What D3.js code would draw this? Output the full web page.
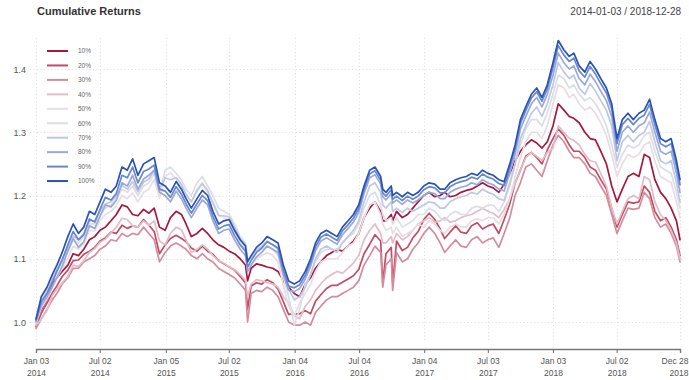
<!DOCTYPE html>
<html><head><meta charset="utf-8">
<script src="https://cdn.jsdelivr.net/npm/d3@7"></script>
<style>body{margin:0;background:#fff;} svg{display:block;font-family:"Liberation Sans",Arial,sans-serif;}</style>
</head><body><svg id="chart" width="689" height="380"></svg>
<script>
// ---- data (semi-monthly readings, plus a few single-day dips) ----
const dates = [
"2014-01-03","2014-01-18","2014-02-03","2014-02-18","2014-03-03","2014-03-18","2014-04-03","2014-04-18","2014-05-03","2014-05-18","2014-06-03","2014-06-18","2014-07-03","2014-07-18","2014-08-03","2014-08-18","2014-09-03","2014-09-18","2014-10-03","2014-10-18","2014-11-03","2014-11-18","2014-12-03","2014-12-18",
"2015-01-03","2015-01-18","2015-02-03","2015-02-18","2015-03-03","2015-03-18","2015-04-03","2015-04-18","2015-05-03","2015-05-18","2015-06-03","2015-06-18","2015-07-03","2015-07-18","2015-08-03","2015-08-18","2015-08-24","2015-09-03","2015-09-18","2015-10-03","2015-10-18","2015-11-03","2015-11-18","2015-12-03","2015-12-18",
"2016-01-03","2016-01-18","2016-02-03","2016-02-18","2016-03-03","2016-03-18","2016-04-03","2016-04-18","2016-05-03","2016-05-18","2016-06-03","2016-06-18","2016-07-03","2016-07-18","2016-08-03","2016-08-18","2016-09-03","2016-09-09","2016-09-18","2016-10-03","2016-10-07","2016-10-18","2016-11-03","2016-11-18","2016-12-03","2016-12-18",
"2017-01-03","2017-01-18","2017-02-03","2017-02-18","2017-03-03","2017-03-18","2017-04-03","2017-04-18","2017-05-03","2017-05-18","2017-06-03","2017-06-18","2017-07-03","2017-07-18","2017-08-03","2017-08-18","2017-09-03","2017-09-18","2017-10-03","2017-10-18","2017-11-03","2017-11-18","2017-12-03","2017-12-18",
"2018-01-03","2018-01-18","2018-02-03","2018-02-18","2018-03-03","2018-03-18","2018-04-03","2018-04-18","2018-05-03","2018-05-18","2018-06-03","2018-06-18","2018-07-03","2018-07-18","2018-08-03","2018-08-18","2018-09-03","2018-09-18","2018-10-03","2018-10-18","2018-11-03","2018-11-18","2018-12-03","2018-12-18","2018-12-28"
];

const s10 = [
1.000,1.020,1.035,1.060,1.070,1.080,1.090,1.108,1.105,1.115,1.130,1.135,1.145,1.150,1.160,1.170,1.185,1.182,1.170,1.168,1.178,1.172,1.180,1.150,
1.145,1.165,1.175,1.170,1.155,1.135,1.140,1.148,1.140,1.130,1.122,1.118,1.112,1.108,1.100,1.090,1.065,1.085,1.092,1.090,1.087,1.085,1.080,1.065,1.055,
1.045,1.040,1.060,1.070,1.085,1.095,1.105,1.110,1.115,1.112,1.120,1.128,1.140,1.165,1.180,1.190,1.175,1.160,1.160,1.170,1.160,1.175,1.165,1.170,1.180,1.190,
1.200,1.205,1.198,1.200,1.205,1.198,1.200,1.205,1.208,1.210,1.215,1.220,1.215,1.212,1.205,1.218,1.235,1.255,1.270,1.280,1.288,1.283,1.275,1.285,
1.310,1.345,1.335,1.325,1.322,1.315,1.300,1.290,1.288,1.270,1.250,1.215,1.190,1.210,1.230,1.235,1.230,1.265,1.260,1.225,1.205,1.195,1.180,1.160,1.130
];
const s20 = [
0.993,1.014,1.030,1.046,1.057,1.072,1.082,1.097,1.098,1.107,1.112,1.118,1.128,1.133,1.142,1.140,1.153,1.148,1.152,1.150,1.162,1.153,1.143,1.108,
1.122,1.132,1.137,1.132,1.127,1.117,1.112,1.120,1.112,1.107,1.097,1.092,1.087,1.082,1.072,1.062,1.020,1.057,1.062,1.060,1.067,1.062,1.052,1.032,1.012,
1.013,1.013,1.018,1.013,1.033,1.043,1.053,1.058,1.058,1.063,1.068,1.073,1.083,1.108,1.123,1.138,1.128,1.062,1.108,1.118,1.060,1.128,1.113,1.118,1.133,1.143,
1.162,1.172,1.162,1.147,1.132,1.142,1.152,1.142,1.140,1.152,1.157,1.147,1.152,1.155,1.140,1.162,1.187,1.220,1.240,1.262,1.268,1.260,1.250,1.272,
1.290,1.305,1.295,1.280,1.270,1.270,1.260,1.245,1.240,1.225,1.210,1.180,1.150,1.170,1.190,1.188,1.190,1.215,1.205,1.175,1.160,1.165,1.150,1.130,1.105
];
const s30 = [
0.990,1.005,1.020,1.035,1.045,1.060,1.070,1.085,1.085,1.095,1.100,1.105,1.115,1.120,1.130,1.128,1.140,1.135,1.140,1.138,1.150,1.140,1.130,1.095,
1.110,1.120,1.125,1.120,1.115,1.105,1.100,1.108,1.100,1.095,1.085,1.080,1.075,1.070,1.060,1.050,1.000,1.045,1.050,1.048,1.055,1.050,1.040,1.020,1.000,
0.995,0.995,1.000,0.995,1.015,1.025,1.035,1.040,1.040,1.045,1.050,1.055,1.065,1.090,1.105,1.120,1.110,1.055,1.090,1.100,1.050,1.110,1.095,1.100,1.115,1.125,
1.140,1.150,1.140,1.125,1.110,1.120,1.130,1.120,1.118,1.130,1.135,1.125,1.130,1.133,1.118,1.140,1.165,1.200,1.220,1.245,1.250,1.240,1.230,1.255,
1.280,1.295,1.285,1.270,1.260,1.260,1.250,1.235,1.230,1.215,1.200,1.170,1.140,1.160,1.180,1.178,1.180,1.205,1.195,1.165,1.150,1.155,1.140,1.120,1.095
];
const s40 = [
0.995,1.005,1.018,1.042,1.052,1.062,1.072,1.090,1.088,1.097,1.110,1.116,1.126,1.131,1.141,1.150,1.164,1.162,1.152,1.150,1.160,1.153,1.160,1.128,
1.122,1.140,1.150,1.146,1.130,1.110,1.115,1.122,1.115,1.105,1.097,1.093,1.087,1.083,1.075,1.066,1.040,1.060,1.067,1.065,1.062,1.060,1.055,1.040,1.030,
1.010,1.005,1.025,1.035,1.050,1.060,1.070,1.075,1.080,1.077,1.085,1.093,1.105,1.130,1.145,1.155,1.140,1.125,1.125,1.135,1.125,1.140,1.130,1.135,1.145,1.155,
1.160,1.165,1.158,1.160,1.165,1.158,1.160,1.165,1.168,1.170,1.175,1.180,1.175,1.172,1.165,1.178,1.195,1.220,1.240,1.260,1.268,1.262,1.255,1.268,
1.275,1.310,1.300,1.290,1.287,1.280,1.265,1.255,1.253,1.235,1.215,1.180,1.155,1.175,1.195,1.200,1.195,1.230,1.225,1.190,1.170,1.160,1.145,1.125,1.100
];
const s50 = [
0.998,1.022,1.036,1.055,1.070,1.085,1.100,1.120,1.115,1.124,1.145,1.144,1.160,1.170,1.175,1.184,1.200,1.195,1.204,1.190,1.205,1.210,1.226,1.196,
1.230,1.236,1.226,1.215,1.200,1.190,1.210,1.220,1.205,1.190,1.170,1.165,1.160,1.145,1.125,1.115,1.090,1.090,1.100,1.105,1.110,1.105,1.095,1.058,1.025,
1.010,1.030,1.045,1.060,1.080,1.095,1.100,1.100,1.100,1.110,1.120,1.125,1.140,1.165,1.185,1.190,1.170,1.155,1.145,1.150,1.140,1.150,1.135,1.140,1.145,1.155,
1.150,1.160,1.155,1.145,1.140,1.150,1.155,1.150,1.150,1.160,1.163,1.160,1.165,1.165,1.155,1.170,1.195,1.230,1.260,1.285,1.300,1.300,1.290,1.310,
1.345,1.375,1.370,1.355,1.360,1.345,1.335,1.340,1.330,1.315,1.295,1.265,1.230,1.250,1.265,1.260,1.265,1.280,1.285,1.255,1.230,1.225,1.220,1.190,1.165
];
const s60 = [
1.000,1.030,1.045,1.065,1.080,1.095,1.110,1.130,1.125,1.135,1.155,1.155,1.170,1.180,1.185,1.195,1.210,1.205,1.215,1.200,1.215,1.220,1.235,1.205,
1.240,1.245,1.235,1.225,1.210,1.200,1.220,1.230,1.215,1.200,1.180,1.175,1.170,1.155,1.135,1.125,1.100,1.100,1.110,1.115,1.120,1.115,1.105,1.070,1.040,
0.995,1.020,1.060,1.075,1.095,1.110,1.115,1.115,1.115,1.125,1.135,1.140,1.155,1.180,1.200,1.205,1.185,1.170,1.160,1.165,1.155,1.165,1.150,1.155,1.160,1.170,
1.170,1.180,1.175,1.165,1.160,1.170,1.175,1.170,1.170,1.180,1.183,1.180,1.185,1.185,1.175,1.190,1.215,1.250,1.280,1.305,1.320,1.320,1.310,1.330,
1.360,1.390,1.385,1.370,1.375,1.360,1.350,1.355,1.345,1.330,1.310,1.280,1.245,1.265,1.280,1.275,1.280,1.295,1.300,1.270,1.245,1.240,1.235,1.205,1.180
];
const s70 = [
1.000,1.033,1.048,1.068,1.083,1.100,1.116,1.136,1.130,1.140,1.160,1.160,1.175,1.186,1.190,1.200,1.216,1.210,1.222,1.206,1.221,1.226,1.240,1.210,
1.228,1.225,1.228,1.218,1.202,1.190,1.207,1.219,1.208,1.188,1.168,1.168,1.166,1.150,1.132,1.122,1.097,1.102,1.114,1.120,1.128,1.122,1.115,1.080,1.052,
1.035,1.040,1.055,1.075,1.100,1.115,1.120,1.115,1.110,1.125,1.135,1.145,1.160,1.190,1.215,1.220,1.205,1.185,1.180,1.190,1.175,1.180,1.173,1.180,1.175,1.180,
1.185,1.190,1.188,1.180,1.180,1.190,1.195,1.198,1.200,1.205,1.202,1.210,1.205,1.202,1.195,1.192,1.220,1.250,1.290,1.310,1.330,1.340,1.325,1.345,
1.375,1.410,1.395,1.385,1.390,1.370,1.360,1.377,1.365,1.350,1.335,1.310,1.255,1.285,1.295,1.285,1.295,1.300,1.317,1.285,1.255,1.250,1.255,1.220,1.190
];
const s80 = [
1.001,1.026,1.040,1.055,1.070,1.088,1.112,1.132,1.118,1.127,1.152,1.148,1.167,1.185,1.182,1.192,1.220,1.215,1.232,1.210,1.226,1.232,1.240,1.205,
1.200,1.190,1.207,1.195,1.180,1.165,1.180,1.193,1.185,1.160,1.140,1.145,1.147,1.130,1.115,1.105,1.080,1.090,1.103,1.110,1.120,1.115,1.110,1.075,1.050,
1.048,1.053,1.068,1.088,1.113,1.128,1.133,1.128,1.123,1.138,1.148,1.158,1.173,1.203,1.228,1.233,1.218,1.198,1.193,1.203,1.188,1.193,1.186,1.193,1.188,1.193,
1.200,1.205,1.203,1.195,1.195,1.205,1.210,1.213,1.215,1.220,1.217,1.225,1.220,1.217,1.210,1.207,1.235,1.265,1.305,1.325,1.345,1.355,1.340,1.360,
1.390,1.425,1.410,1.400,1.405,1.385,1.375,1.392,1.380,1.365,1.350,1.325,1.270,1.300,1.310,1.300,1.310,1.315,1.332,1.300,1.270,1.265,1.270,1.235,1.205
];
const s90 = [
1.003,1.032,1.045,1.063,1.080,1.098,1.122,1.143,1.130,1.138,1.163,1.158,1.178,1.197,1.193,1.203,1.232,1.228,1.245,1.220,1.238,1.242,1.248,1.210,
1.207,1.197,1.214,1.202,1.187,1.172,1.187,1.200,1.192,1.167,1.147,1.152,1.154,1.137,1.122,1.112,1.087,1.097,1.110,1.117,1.127,1.122,1.117,1.082,1.057,
1.054,1.059,1.074,1.094,1.119,1.134,1.139,1.134,1.129,1.144,1.154,1.164,1.179,1.209,1.234,1.239,1.224,1.204,1.199,1.209,1.194,1.199,1.192,1.199,1.194,1.199,
1.209,1.214,1.212,1.204,1.204,1.214,1.219,1.222,1.224,1.229,1.226,1.234,1.229,1.226,1.219,1.216,1.244,1.274,1.314,1.334,1.354,1.364,1.349,1.369,
1.402,1.437,1.422,1.412,1.417,1.397,1.387,1.404,1.392,1.377,1.362,1.337,1.282,1.312,1.322,1.312,1.322,1.327,1.344,1.312,1.282,1.277,1.282,1.247,1.217
];
const s100 = [
1.005,1.040,1.055,1.075,1.090,1.110,1.135,1.155,1.140,1.150,1.175,1.170,1.190,1.210,1.205,1.215,1.245,1.240,1.258,1.232,1.250,1.255,1.260,1.220,
1.215,1.205,1.222,1.210,1.195,1.180,1.195,1.208,1.200,1.175,1.155,1.160,1.162,1.145,1.130,1.120,1.095,1.105,1.118,1.125,1.135,1.130,1.125,1.090,1.065,
1.060,1.065,1.080,1.100,1.125,1.140,1.145,1.140,1.135,1.150,1.160,1.170,1.185,1.215,1.240,1.245,1.230,1.210,1.205,1.215,1.200,1.205,1.198,1.205,1.200,1.205,
1.215,1.220,1.218,1.210,1.210,1.220,1.225,1.228,1.230,1.235,1.232,1.240,1.235,1.232,1.225,1.222,1.250,1.280,1.320,1.340,1.360,1.370,1.355,1.375,
1.410,1.445,1.430,1.420,1.425,1.405,1.395,1.412,1.400,1.385,1.370,1.345,1.290,1.320,1.330,1.320,1.330,1.335,1.352,1.320,1.290,1.285,1.290,1.255,1.225
];

const seriesNames = ["10%","20%","30%","40%","50%","60%","70%","80%","90%","100%"];
const seriesValues = [s10,s20,s30,s40,s50,s60,s70,s80,s90,s100];
const seriesColors = ["#a8173e","#c24b67","#d48c9d","#e4bcc6","#e8dde1","#dcdee7","#bfc8e3","#98a9da","#6a86cd","#2753b7"];

const yTicks = [1.0, 1.1, 1.2, 1.3, 1.4];
const xTickDates = ["2014-01-03","2014-07-02","2015-01-05","2015-07-02","2016-01-04","2016-07-04","2017-01-04","2017-07-03","2018-01-03","2018-07-02","2018-12-28"];
const xTickLabels = ["Jan 03|2014","Jul 02|2014","Jan 05|2015","Jul 02|2015","Jan 04|2016","Jul 04|2016","Jan 04|2017","Jul 03|2017","Jan 03|2018","Jul 02|2018","Dec 28|2018"];
const title = "Cumulative Returns";
const rangeLabel = "2014-01-03 / 2018-12-28";

// ---- drawing ----
const svg = d3.select("#chart");
const parse = d3.timeParse("%Y-%m-%d");
const D = dates.map(parse);

const x = d3.scaleTime().domain([parse("2014-01-03"), parse("2018-12-28")]).range([36, 680]);
const y = d3.scaleLinear().domain([1.0, 1.4]).range([322, 69]);

// sanity check
seriesValues.forEach((s,i)=>{ if (s.length !== D.length) svg.append("text").attr("x",300).attr("y",30+i*10).attr("font-size",9).attr("fill","red").text(seriesNames[i]+" len "+s.length+" vs "+D.length); });

// grid
const grid = svg.append("g").attr("stroke","#d4d4d4").attr("stroke-width",0.8).attr("stroke-dasharray","1,2.5");
yTicks.forEach(t => grid.append("line").attr("x1",30).attr("x2",684).attr("y1",Math.round(y(t))+0.5).attr("y2",Math.round(y(t))+0.5));
xTickDates.forEach(t => { const xx = Math.round(x(parse(t)))+0.5; grid.append("line").attr("x1",xx).attr("x2",xx).attr("y1",38).attr("y2",340); });

// y labels
svg.append("g").selectAll("text").data(yTicks).join("text")
  .attr("x",26).attr("y",d=>y(d)+3.5).attr("text-anchor","end")
  .attr("font-size",9).attr("fill","#555").text(d=>d3.format(".1f")(d));

// x axis
const xAxis = d3.axisBottom(x).tickValues(xTickDates.map(parse)).tickSize(4).tickFormat(()=>"");
const gx = svg.append("g").attr("transform","translate(0,349)").call(xAxis);
gx.select(".domain").attr("stroke","#777").attr("stroke-width",1.3);
gx.selectAll(".tick line").attr("stroke","#777").attr("stroke-width",1.1);
const nT = xTickLabels.length;
gx.selectAll(".tick").each(function(d,i){
  const parts = xTickLabels[i].split("|");
  const last = i === nT - 1;
  const t = d3.select(this).append("text").attr("fill","#555").attr("font-size",8.5)
    .attr("text-anchor", last ? "end" : "middle");
  const dx = last ? 8 : 0;
  t.append("tspan").attr("x",dx).attr("y",15).text(parts[0]);
  t.append("tspan").attr("x",dx).attr("y",27).text(parts[1]);
});

// lines
const line = d3.line().x((d,i)=>x(D[i])).y(d=>y(d));
svg.append("g").selectAll("path").data(seriesValues).join("path")
  .attr("d", d=>line(d)).attr("fill","none")
  .attr("stroke",(d,i)=>seriesColors[i]).attr("stroke-width",1.7)
  .attr("stroke-linejoin","round").attr("stroke-linecap","round");

// legend
const lg = svg.append("g");
seriesNames.forEach((n,i)=>{
  const yy = 51 + i*14.45;
  lg.append("line").attr("x1",47).attr("x2",68).attr("y1",yy).attr("y2",yy).attr("stroke",seriesColors[i]).attr("stroke-width",2);
  lg.append("text").attr("x",78).attr("y",yy+2.3).attr("font-size",6.5).attr("fill","#666").text(n);
});

// titles
svg.append("text").attr("x",37).attr("y",15).attr("font-size",11).attr("font-weight","bold").attr("fill","#333").text(title);
svg.append("text").attr("x",681).attr("y",15).attr("text-anchor","end").attr("font-size",10).attr("fill","#444").text(rangeLabel);
</script></body></html>
